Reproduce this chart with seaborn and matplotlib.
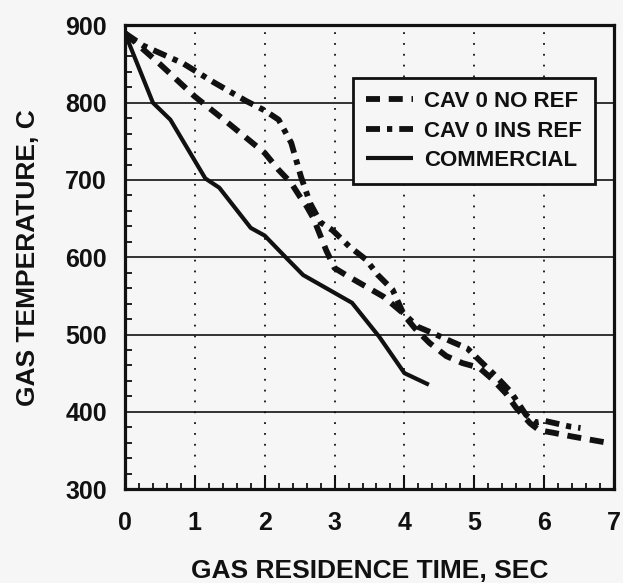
import numpy as np
import pandas as pd
import matplotlib
matplotlib.use("Agg")
import matplotlib.pyplot as plt
import seaborn as sns
from matplotlib.ticker import MultipleLocator

# Series
no_ref_time = [0.0, 0.5, 1.0, 1.5, 2.0, 2.2, 2.38, 2.5, 2.6, 2.7, 2.88, 3.0, 3.2, 3.45,
               3.7, 3.95, 4.15, 4.36, 4.6, 4.83, 5.07, 5.26, 5.45, 5.6, 5.8, 5.93, 6.12, 6.4, 6.9]
no_ref_temp = [890, 850, 808, 772, 735, 713, 696, 679, 666, 650, 609, 586, 575, 562,
               549, 530, 508, 489, 472, 463, 457, 442, 424, 405, 385, 376, 373, 368, 360]

ins_ref_time = [0.0, 0.26, 0.83, 1.26, 1.74, 2.0, 2.2, 2.38, 2.52, 2.65, 2.8, 2.97, 3.21,
                3.45, 3.62, 3.83, 3.98, 4.19, 4.4, 4.67, 4.9, 5.07, 5.31, 5.52, 5.74,
                5.88, 6.02, 6.36, 6.52]
ins_ref_temp = [890, 874, 851, 827, 802, 790, 778, 748, 704, 670, 645, 635, 614,
                597, 577, 558, 528, 510, 502, 491, 482, 467, 446, 426, 396,
                386, 388, 381, 379]

comm_time = [0.0, 0.4, 0.65, 1.15, 1.35, 1.8, 2.0, 2.3, 2.55, 3.25, 3.64, 4.0, 4.35]
comm_temp = [890, 800, 778, 702, 690, 638, 628, 600, 577, 541, 497, 450, 435]

series_names = ["CAV 0 NO REF", "CAV 0 INS REF", "COMMERCIAL"]

df = pd.concat([
    pd.DataFrame({"time": no_ref_time, "temp": no_ref_temp, "series": series_names[0]}),
    pd.DataFrame({"time": ins_ref_time, "temp": ins_ref_temp, "series": series_names[1]}),
    pd.DataFrame({"time": comm_time, "temp": comm_temp, "series": series_names[2]}),
])

sns.set_style("ticks")
plt.rcParams["font.family"] = ["Liberation Sans", "DejaVu Sans"]
plt.rcParams["font.weight"] = "bold"

bg = "#f6f6f6"
ink = "#111111"

fig = plt.figure(figsize=(6.23, 5.83), dpi=100, facecolor=bg)
ax = fig.add_axes([0.2006, 0.1612, 0.785, 0.7951])
ax.set_facecolor(bg)

# Grid first so the data sits on top
ax.set_axisbelow(True)
ax.yaxis.grid(True, color=ink, linewidth=1.2)
ax.xaxis.grid(True, color=ink, linewidth=1.3, linestyle=(0, (1, 5)))

sns.lineplot(data=df, x="time", y="temp", style="series", hue="series",
             palette={n: ink for n in series_names},
             dashes={series_names[0]: (2.4, 1.5),
                     series_names[1]: (2.4, 1.2, 0.9, 1.2),
                     series_names[2]: ""},
             estimator=None, sort=False, ax=ax, legend=False)

lines = ax.get_lines()[-3:]
for ln, lw in zip(lines, [4.2, 4.2, 3.0]):
    ln.set_linewidth(lw)
    ln.set_solid_capstyle("butt")
    ln.set_dash_capstyle("butt")

ax.set_xlim(0, 7)
ax.set_ylim(300, 900)
ax.xaxis.set_major_locator(MultipleLocator(1))
ax.xaxis.set_minor_locator(MultipleLocator(0.2))
ax.yaxis.set_major_locator(MultipleLocator(100))
ax.yaxis.set_minor_locator(MultipleLocator(20))

ax.tick_params(axis="x", which="major", direction="in", length=10, width=1.5,
               pad=16, labelsize=18, colors=ink)
ax.tick_params(axis="x", which="minor", direction="in", length=4.5, width=1.3, colors=ink)
ax.tick_params(axis="y", which="major", direction="in", length=0, width=1.5,
               pad=13, labelsize=18, colors=ink)
ax.tick_params(axis="y", which="minor", direction="in", length=5, width=1.3, colors=ink)

for side in ["left", "right", "top", "bottom"]:
    ax.spines[side].set_visible(True)
    ax.spines[side].set_linewidth(2.3)
    ax.spines[side].set_color(ink)

ax.set_xlabel("GAS RESIDENCE TIME, SEC", fontsize=19, fontweight="bold",
              color=ink, labelpad=17)
ax.set_ylabel("GAS TEMPERATURE, C", fontsize=19, fontweight="bold",
              color=ink, labelpad=18)

leg = ax.legend(lines, series_names, loc="upper right",
                bbox_to_anchor=(0.961, 0.887), borderaxespad=0,
                fontsize=16, handlelength=2.1, handletextpad=0.5,
                labelspacing=0.38, borderpad=0.6, frameon=True,
                fancybox=False, framealpha=1, facecolor=bg, edgecolor=ink)
leg.get_frame().set_linewidth(2.0)
for t in leg.get_texts():
    t.set_color(ink)
    t.set_fontweight("bold")

fig.savefig("out.png", dpi=100, facecolor=bg)
